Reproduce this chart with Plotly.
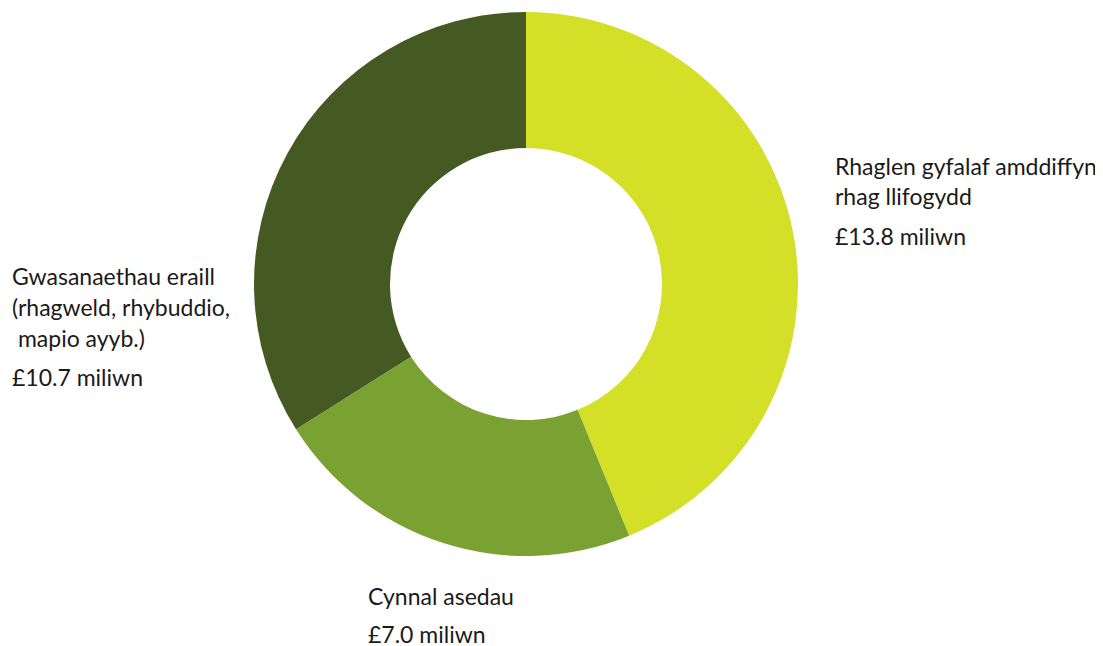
import plotly.graph_objects as go

categories = ["Rhaglen gyfalaf amddiffyn rhag llifogydd", "Cynnal asedau",
              "Gwasanaethau eraill (rhagweld, rhybuddio, mapio ayyb.)"]
values = [13.8, 7.0, 10.7]
label_lines = [
    ["Rhaglen gyfalaf amddiffyn", "rhag llifogydd"],
    ["Cynnal asedau"],
    ["Gwasanaethau eraill", "(rhagweld, rhybuddio,", "\u00a0mapio ayyb.)"],
]
amount_fmt = "£{:.1f} miliwn"
colors = ["#D4DF27", "#79A232", "#455A22"]

W, H = 1103, 646
OFF = 8  # page body margin offset

def px(x):
    return (x - OFF) / W

def py(y):
    return 1 - (y - OFF) / H

fig = go.Figure(go.Pie(
    labels=categories, values=values, sort=False, direction="clockwise",
    rotation=0, hole=0.5, textinfo="none", hoverinfo="label+value",
    marker=dict(colors=colors, line=dict(width=0)),
    domain=dict(x=[px(254), px(798)], y=[py(556), py(12)]),
    showlegend=False,
))

font = dict(family="Lato", size=23, color="#1a1a1a")
# label anchor positions (pixels): x, first line y, line step, amount y
anchors = [(833, 166, 30, 236), (366, 596, 30, 634), (10, 276, 31, 377)]
annotations = []
for lines, v, (ax, ay, step, amy) in zip(label_lines, values, anchors):
    for i, t in enumerate(lines):
        annotations.append(dict(text=t, x=px(ax), y=py(ay + i * step),
                                xref="paper", yref="paper", xanchor="left",
                                yanchor="middle", showarrow=False, font=font))
    annotations.append(dict(text=amount_fmt.format(v), x=px(ax), y=py(amy),
                            xref="paper", yref="paper", xanchor="left",
                            yanchor="middle", showarrow=False, font=font))

fig.update_layout(width=W, height=H, margin=dict(l=0, r=0, t=0, b=0),
                  paper_bgcolor="white", plot_bgcolor="white",
                  annotations=annotations)
fig.write_html("out.html")
